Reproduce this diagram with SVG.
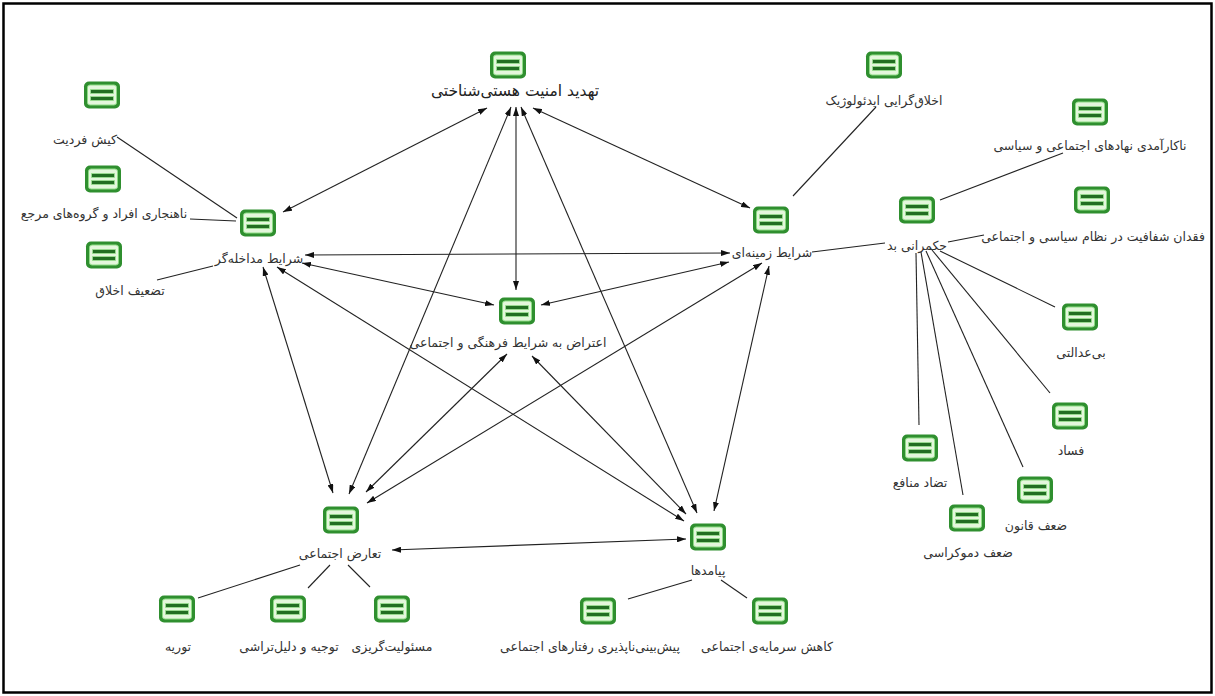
<svg xmlns="http://www.w3.org/2000/svg" xmlns:xlink="http://www.w3.org/1999/xlink" width="1215" height="696" viewBox="0 0 1215 696">
<style>
.lbl{font-family:"DejaVu Sans",sans-serif;font-size:12.5px;fill:#333;text-anchor:middle}
.big{font-size:15.5px;fill:#222}
.ln{stroke:#222;stroke-width:1.1;fill:none}
.ar{stroke:#222;stroke-width:1.1;fill:none;marker-start:url(#ah);marker-end:url(#ah)}
</style>
<defs>
<marker id="ah" viewBox="0 0 9 6" refX="9" refY="3" markerWidth="9" markerHeight="6" markerUnits="userSpaceOnUse" orient="auto-start-reverse">
<path d="M0,0 L9,3 L0,6 z" fill="#111"/>
</marker>
<g id="ic">
<rect x="-18" y="-13.5" width="36" height="27" rx="5" fill="#2f8f2f"/>
<rect x="-14.5" y="-10" width="29" height="20" rx="2.5" fill="#e4f7dc" stroke="#8fdc86" stroke-width="1"/>
<rect x="-11.5" y="-5.5" width="23" height="4" fill="#226e22" stroke="#9fe394" stroke-width="0.8"/>
<rect x="-11.5" y="1.5" width="23" height="4" fill="#226e22" stroke="#9fe394" stroke-width="0.8"/>
</g>
</defs>
<rect x="0" y="0" width="1215" height="696" fill="#fff"/>
<rect x="3.5" y="3.5" width="1208" height="689" fill="none" stroke="#000" stroke-width="2.5"/>

<g id="connectors">
<line class="ln" x1="117" y1="137" x2="237" y2="218"/>
<line class="ln" x1="190" y1="219" x2="236" y2="221"/>
<line class="ln" x1="157" y1="280" x2="213" y2="266"/>
<line class="ln" x1="876" y1="107" x2="793" y2="196"/>
<line class="ln" x1="812" y1="252" x2="885" y2="243"/>
<line class="ln" x1="940" y1="200" x2="1063" y2="153"/>
<line class="ln" x1="948" y1="242" x2="984" y2="235"/>
<line class="ln" x1="916" y1="253" x2="919" y2="425"/>
<line class="ln" x1="921" y1="252" x2="963" y2="495"/>
<line class="ln" x1="926" y1="251" x2="1023" y2="467"/>
<line class="ln" x1="932" y1="250" x2="1050" y2="393"/>
<line class="ln" x1="940" y1="251" x2="1055" y2="307"/>
<line class="ln" x1="300" y1="565" x2="198" y2="598"/>
<line class="ln" x1="330" y1="565" x2="308" y2="588"/>
<line class="ln" x1="348" y1="565" x2="370" y2="587"/>
<line class="ln" x1="692" y1="580" x2="628" y2="599"/>
<line class="ln" x1="721" y1="580" x2="747" y2="598"/>

<line class="ar" x1="487" y1="108" x2="283" y2="212"/>
<line class="ar" x1="533" y1="108" x2="750" y2="208"/>
<line class="ar" x1="516" y1="107" x2="516" y2="290"/>
<line class="ar" x1="511" y1="107" x2="349" y2="494"/>
<line class="ar" x1="521" y1="107" x2="697" y2="513"/>
<line class="ar" x1="305" y1="255" x2="730" y2="253"/>
<line class="ar" x1="302" y1="263" x2="494" y2="305"/>
<line class="ar" x1="729" y1="262" x2="541" y2="305"/>
<line class="ar" x1="263" y1="267" x2="333" y2="493"/>
<line class="ar" x1="277" y1="267" x2="684" y2="521"/>
<line class="ar" x1="762" y1="263" x2="367" y2="503"/>
<line class="ar" x1="769" y1="266" x2="714" y2="511"/>
<line class="ar" x1="507" y1="354" x2="366" y2="492"/>
<line class="ar" x1="532" y1="356" x2="686" y2="514"/>
<line class="ar" x1="392" y1="550" x2="686" y2="539"/>
</g>

<g id="n-threat"><use xlink:href="#ic" x="508" y="65"/><text class="lbl big" x="515" y="96">تهدید امنیت هستی‌شناختی</text></g>
<g id="n-ideology"><use xlink:href="#ic" x="884" y="65"/><text class="lbl" x="884" y="105">اخلاق‌گرایی ایدئولوژیک</text></g>
<g id="n-cult"><use xlink:href="#ic" x="102" y="95"/><text class="lbl" x="85" y="144">کیش فردیت</text></g>
<g id="n-anomie"><use xlink:href="#ic" x="103" y="179"/><text class="lbl" x="104" y="218">ناهنجاری افراد و گروه‌های مرجع</text></g>
<g id="n-ethics"><use xlink:href="#ic" x="104" y="255"/><text class="lbl" x="130" y="295">تضعیف اخلاق</text></g>
<g id="n-intervening"><use xlink:href="#ic" x="258" y="223"/><text class="lbl" x="259" y="263">شرایط مداخله‌گر</text></g>
<g id="n-context"><use xlink:href="#ic" x="771" y="220"/><text class="lbl" x="772" y="257">شرایط زمینه‌ای</text></g>
<g id="n-inefficiency"><use xlink:href="#ic" x="1090" y="112"/><text class="lbl" x="1090" y="150">ناکارآمدی نهادهای اجتماعی و سیاسی</text></g>
<g id="n-badgov"><use xlink:href="#ic" x="917" y="210"/><text class="lbl" x="917" y="250">حکمرانی بد</text></g>
<g id="n-transparency"><use xlink:href="#ic" x="1092" y="200"/><text class="lbl" x="1093" y="241">فقدان شفافیت در نظام سیاسی و اجتماعی</text></g>
<g id="n-protest"><use xlink:href="#ic" x="517" y="311"/><text class="lbl" x="508" y="347">اعتراض به شرایط فرهنگی و اجتماعی</text></g>
<g id="n-injustice"><use xlink:href="#ic" x="1080" y="317"/><text class="lbl" x="1081" y="357">بی‌عدالتی</text></g>
<g id="n-corruption"><use xlink:href="#ic" x="1070" y="416"/><text class="lbl" x="1071" y="455">فساد</text></g>
<g id="n-conflict-interest"><use xlink:href="#ic" x="920" y="448"/><text class="lbl" x="920" y="487">تضاد منافع</text></g>
<g id="n-weak-law"><use xlink:href="#ic" x="1035" y="490"/><text class="lbl" x="1036" y="530">ضعف قانون</text></g>
<g id="n-weak-democracy"><use xlink:href="#ic" x="967" y="518"/><text class="lbl" x="968" y="557">ضعف دموکراسی</text></g>
<g id="n-social-conflict"><use xlink:href="#ic" x="341" y="520"/><text class="lbl" x="340" y="558">تعارض اجتماعی</text></g>
<g id="n-consequences"><use xlink:href="#ic" x="708" y="537"/><text class="lbl" x="708" y="575">پیامدها</text></g>
<g id="n-equivocation"><use xlink:href="#ic" x="177" y="609"/><text class="lbl" x="178" y="651">توریه</text></g>
<g id="n-justification"><use xlink:href="#ic" x="288" y="609"/><text class="lbl" x="289" y="651">توجیه و دلیل‌تراشی</text></g>
<g id="n-irresponsibility"><use xlink:href="#ic" x="392" y="609"/><text class="lbl" x="392" y="651">مسئولیت‌گریزی</text></g>
<g id="n-unpredictability"><use xlink:href="#ic" x="598" y="611"/><text class="lbl" x="590" y="651">پیش‌بینی‌ناپذیری رفتارهای اجتماعی</text></g>
<g id="n-social-capital"><use xlink:href="#ic" x="770" y="611"/><text class="lbl" x="767" y="651">کاهش سرمایه‌ی اجتماعی</text></g>
</svg>
